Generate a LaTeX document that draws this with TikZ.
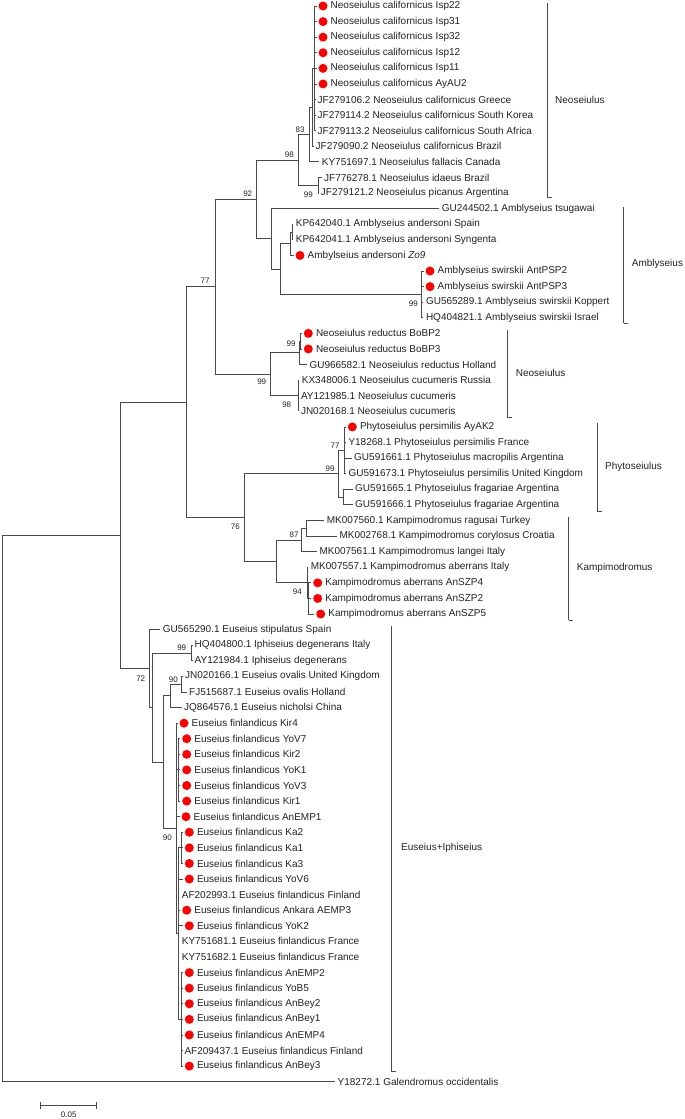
\documentclass[tikz,border=0pt]{standalone}
\usepackage{fontspec}
\setmainfont{Liberation Sans}
\definecolor{treeg}{HTML}{4A4A4A}
\definecolor{txt}{HTML}{222222}
\tikzset{
  br/.style={draw=treeg, line width=0.85pt},
  lab/.style={anchor=west, inner sep=0pt, font=\fontsize{10}{12}\selectfont, text=txt},
  bs/.style={inner sep=0pt, font=\fontsize{8}{9}\selectfont, text=txt},
  rdot/.style={circle, fill=red, draw=none, inner sep=0pt, minimum size=9pt},
  clade/.style={draw=treeg, line width=0.85pt},
}
\newcommand\LP[4]{\coordinate (#1) at (#2,{6+15.59*#3}); \node[lab] (#1t) at ([xshift=2.5pt]#1) {#4};}
\newcommand\LD[4]{\coordinate (#1) at (#2,{6+15.59*#3}); \node[rdot] (#1d) at ([xshift=6.5pt]#1) {}; \node[lab] (#1t) at ([xshift=14pt]#1) {#4};}
\begin{document}
\begin{tikzpicture}[x=1pt,y=-1pt]
\useasboundingbox (0,0) rectangle (685,1119);
% ---------- leaves ----------
\LD{L0}{316.5}{0}{Neoseiulus californicus Isp22}
\LD{L1}{316.5}{1}{Neoseiulus californicus Isp31}
\LD{L2}{316.5}{2}{Neoseiulus californicus Isp32}
\LD{L3}{316.5}{3}{Neoseiulus californicus Isp12}
\LD{L4}{316.5}{4}{Neoseiulus californicus Isp11}
\LD{L5}{316.5}{5}{Neoseiulus californicus AyAU2}
\LP{L6}{315}{6}{JF279106.2 Neoseiulus californicus Greece}
\LP{L7}{315}{7}{JF279114.2 Neoseiulus californicus South Korea}
\LP{L8}{315}{8}{JF279113.2 Neoseiulus californicus South Africa}
\LP{L9}{313}{9}{JF279090.2 Neoseiulus californicus Brazil}
\LP{L10}{319.2}{10}{KY751697.1 Neoseiulus fallacis Canada}
\LP{L11}{321.5}{11}{JF776278.1 Neoseiulus idaeus Brazil}
\LP{L12}{318.2}{12}{JF279121.2 Neoseiulus picanus Argentina}
\LP{L13}{439.2}{13}{GU244502.1 Amblyseius tsugawai}
\LP{L14}{293.2}{14}{KP642040.1 Amblyseius andersoni Spain}
\LP{L15}{293.2}{15}{KP642041.1 Amblyseius andersoni Syngenta}
\LD{L16}{293.5}{16}{Ambylseius andersoni \textit{Zo9}}
\LD{L17}{423.5}{17}{Amblyseius swirskii AntPSP2}
\LD{L18}{423.5}{18}{Amblyseius swirskii AntPSP3}
\LP{L19}{423.3}{19}{GU565289.1 Amblyseius swirskii Koppert}
\LP{L20}{423.3}{20}{HQ404821.1 Amblyseius swirskii Israel}
\LD{L21}{301.8}{21}{Neoseiulus reductus BoBP2}
\LD{L22}{301.8}{22}{Neoseiulus reductus BoBP3}
\LP{L23}{306.8}{23}{GU966582.1 Neoseiulus reductus Holland}
\LP{L24}{299.2}{24}{KX348006.1 Neoseiulus cucumeris Russia}
\LP{L25}{298.3}{25}{AY121985.1 Neoseiulus cucumeris}
\LP{L26}{298.3}{26}{JN020168.1 Neoseiulus cucumeris}
\LD{L27}{345.8}{27}{Phytoseiulus persimilis AyAK2}
\LP{L28}{345.8}{28}{Y18268.1 Phytoseiulus persimilis France}
\LP{L29}{351.5}{29}{GU591661.1 Phytoseiulus macropilis Argentina}
\LP{L30}{345.8}{30}{GU591673.1 Phytoseiulus persimilis United Kingdom}
\LP{L31}{352.5}{31}{GU591665.1 Phytoseiulus fragariae Argentina}
\LP{L32}{352.5}{32}{GU591666.1 Phytoseiulus fragariae Argentina}
\LP{L33}{324.2}{33}{MK007560.1 Kampimodromus ragusai Turkey}
\LP{L34}{336.8}{34}{MK002768.1 Kampimodromus corylosus Croatia}
\LP{L35}{316.8}{35}{MK007561.1 Kampimodromus langei Italy}
\LP{L36}{308.2}{36}{MK007557.1 Kampimodromus aberrans Italy}
\LD{L37}{311.2}{37}{Kampimodromus aberrans AnSZP4}
\LD{L38}{311.2}{38}{Kampimodromus aberrans AnSZP2}
\LD{L39}{314.2}{39}{Kampimodromus aberrans AnSZP5}
\LP{L40}{160.2}{40}{GU565290.1 Euseius stipulatus Spain}
\LP{L41}{192}{41}{HQ404800.1 Iphiseius degenerans Italy}
\LP{L42}{192}{42}{AY121984.1 Iphiseius degenerans}
\LP{L43}{182.5}{43}{JN020166.1 Euseius ovalis United Kingdom}
\LP{L44}{186.5}{44}{FJ515687.1 Euseius ovalis Holland}
\LP{L45}{181.5}{45}{JQ864576.1 Euseius nicholsi China}
\LD{L46}{177.5}{46}{Euseius finlandicus Kir4}
\LD{L47}{180.2}{47}{Euseius finlandicus YoV7}
\LD{L48}{180.2}{48}{Euseius finlandicus Kir2}
\LD{L49}{180.2}{49}{Euseius finlandicus YoK1}
\LD{L50}{180.2}{50}{Euseius finlandicus YoV3}
\LD{L51}{180.2}{51}{Euseius finlandicus Kir1}
\LD{L52}{179.5}{52}{Euseius finlandicus AnEMP1}
\LD{L53}{182.8}{53}{Euseius finlandicus Ka2}
\LD{L54}{182.8}{54}{Euseius finlandicus Ka1}
\LD{L55}{182.8}{55}{Euseius finlandicus Ka3}
\LD{L56}{182.8}{56}{Euseius finlandicus YoV6}
\LP{L57}{179.2}{57}{AF202993.1 Euseius finlandicus Finland}
\LD{L58}{180.2}{58}{Euseius finlandicus Ankara AEMP3}
\LD{L59}{182.8}{59}{Euseius finlandicus YoK2}
\LP{L60}{179.2}{60}{KY751681.1 Euseius finlandicus France}
\LP{L61}{179.2}{61}{KY751682.1 Euseius finlandicus France}
\LD{L62}{182.8}{62}{Euseius finlandicus AnEMP2}
\LD{L63}{182.8}{63}{Euseius finlandicus YoB5}
\LD{L64}{182.8}{64}{Euseius finlandicus AnBey2}
\LD{L65}{182.8}{65}{Euseius finlandicus AnBey1}
\LD{L66}{182.8}{66}{Euseius finlandicus AnEMP4}
\LP{L67}{181.8}{67}{AF209437.1 Euseius finlandicus Finland}
\LD{L68}{182.8}{68}{Euseius finlandicus AnBey3}
\LP{L69}{335}{69}{Y18272.1 Galendromus occidentalis}
% ---------- internal nodes ----------
\coordinate (r) at (2,808.55);
\coordinate (n120) at (120,535.4);
\coordinate (n186) at (186,402.21);
\coordinate (n77) at (215,286.87);
\coordinate (n92) at (256.7,199.42);
\coordinate (n98) at (298,159.96);
\coordinate (n83) at (309,134.62);
\coordinate (nB) at (312.5,107.34);
\coordinate (nAc) at (314.5,68.36);
\coordinate (nC) at (318,185.29);
\coordinate (nA) at (271,238.88);
\coordinate (nX) at (280,269.08);
\coordinate (nAnd) at (290,243.75);
\coordinate (nAnd2) at (292,232.06);
\coordinate (nSw) at (421.5,294.42);
\coordinate (nN2) at (270.7,374.32);
\coordinate (nRed) at (299.3,352.88);
\coordinate (nRed2) at (300.5,341.19);
\coordinate (nCuc) at (298.3,395.75);
\coordinate (n76) at (244.3,517.55);
\coordinate (nPhy) at (338.3,473.7);
\coordinate (nP77) at (344,450.32);
\coordinate (nFrag) at (343.3,497.09);
\coordinate (nKam) at (276,561.4);
\coordinate (n87) at (301.7,539.96);
\coordinate (nRC) at (306.7,528.27);
\coordinate (nAb) at (307.3,582.83);
\coordinate (nAb2) at (308.5,598.42);
\coordinate (nE) at (149.3,668.58);
\coordinate (nE2) at (152.7,707.55);
\coordinate (nIph) at (191.7,652.99);
\coordinate (nE3) at (163.3,762.12);
\coordinate (nOv) at (170,695.86);
\coordinate (nOv2) at (181.7,684.17);
\coordinate (nF) at (176,828.37);
\coordinate (nH) at (178.3,769.91);
\coordinate (nG) at (178.3,933.6);
\coordinate (nKa) at (181,847.86);
\coordinate (nAE) at (181.7,1019.35);
% ---------- branches ----------
\foreach \p/\c in {r/n120, r/L69, n120/n186, n120/nE, n186/n77, n186/n76,
  n77/n92, n77/nN2, n92/n98, n92/nA, n98/n83, n98/nC, n83/nB, n83/L10,
  nB/nAc, nB/L9, nC/L11, nC/L12, nA/L13, nA/nX, nX/nAnd, nX/nSw,
  nAnd/nAnd2, nAnd/L16, nAnd2/L14, nAnd2/L15,
  nN2/nRed, nN2/nCuc, nRed/nRed2, nRed/L23, nRed2/L21, nRed2/L22,
  nCuc/L24, nCuc/L25, nCuc/L26,
  n76/nPhy, n76/nKam, nPhy/nP77, nPhy/nFrag, nFrag/L31, nFrag/L32,
  nKam/n87, nKam/nAb, n87/nRC, n87/L35, nRC/L33, nRC/L34,
  nAb/L36, nAb/nAb2, nAb2/L37, nAb2/L38, nAb2/L39,
  nE/L40, nE/nE2, nE2/nIph, nE2/nE3, nIph/L41, nIph/L42,
  nE3/nOv, nE3/nF, nOv/nOv2, nOv/L45, nOv2/L43, nOv2/L44,
  nF/L46, nF/nH, nF/L52, nF/nG, nKa/L53, nKa/L54, nKa/L55,
  nG/nKa, nG/L56, nG/L57, nG/L58, nG/L59, nG/L60, nG/L61, nG/nAE}
  \draw[br] (\p) |- (\c);
\foreach \i in {0,...,8} \draw[br] (nAc) |- (L\i);
\foreach \i in {17,...,20} \draw[br] (nSw) |- (L\i);
\foreach \i in {27,...,30} \draw[br] (nP77) |- (L\i);
\foreach \i in {47,...,51} \draw[br] (nH) |- (L\i);
\foreach \i in {62,...,68} \draw[br] (nAE) |- (L\i);
% ---------- bootstrap values ----------
\node[bs] (b1) at (300,129.3) {83};
\node[bs] (b2) at (289.3,154.3) {98};
\node[bs] (b3) at (308.3,195) {99};
\node[bs] (b4) at (247.7,194) {92};
\node[bs] (b5) at (205,280.7) {77};
\node[bs] (b6) at (413.3,303.3) {99};
\node[bs] (b7) at (291,344) {99};
\node[bs] (b8) at (261.7,381.7) {99};
\node[bs] (b9) at (286.7,405) {98};
\node[bs] (b10) at (335,446) {77};
\node[bs] (b11) at (330,468.3) {99};
\node[bs] (b12) at (235.3,526.7) {76};
\node[bs] (b13) at (294,534.3) {87};
\node[bs] (b14) at (297.3,591.7) {94};
\node[bs] (b15) at (140.7,678.3) {72};
\node[bs] (b16) at (181.7,647.3) {99};
\node[bs] (b17) at (173.3,679.3) {90};
\node[bs] (b18) at (167.3,837.3) {90};
% ---------- clade brackets ----------
\foreach \nm/\x/\t/\b in {k1/551.7/3/197, k2/628.3/207.3/323.3, k3/511.7/330/417.7,
  k4/601.7/423.3/511, k5/573.3/517.3/620, k6/396/626/1071} {
  \coordinate (\nm a) at (\x-4.7,\t);
  \coordinate (\nm b) at (\x-4.7,\b);
  \draw[clade] (\nm a) -| (\nm b) ;
  \draw[clade] (\nm b) -- ++(4.7,0);
}
\node[lab] (c1) at (555,100) {Neoseiulus};
\node[lab] (c2) at (631.7,264) {Amblyseius};
\node[lab] (c3) at (515.7,372.7) {Neoseiulus};
\node[lab] (c4) at (605,466.7) {Phytoseiulus};
\node[lab] (c5) at (576.7,567.7) {Kampimodromus};
\node[lab] (c6) at (401,848) {Euseius+Iphiseius};
% ---------- scale bar ----------
\coordinate (s1) at (40.7,1105.7);
\coordinate (s2) at (96.7,1105.7);
\draw[br] (s1) -- (s2);
\draw[br] ([yshift=3.5pt]s1) -- ([yshift=-3.5pt]s1);
\draw[br] ([yshift=3.5pt]s2) -- ([yshift=-3.5pt]s2);
\node[bs] (sl) at (68.7,1114.5) {0.05};
\end{tikzpicture}
\end{document}
